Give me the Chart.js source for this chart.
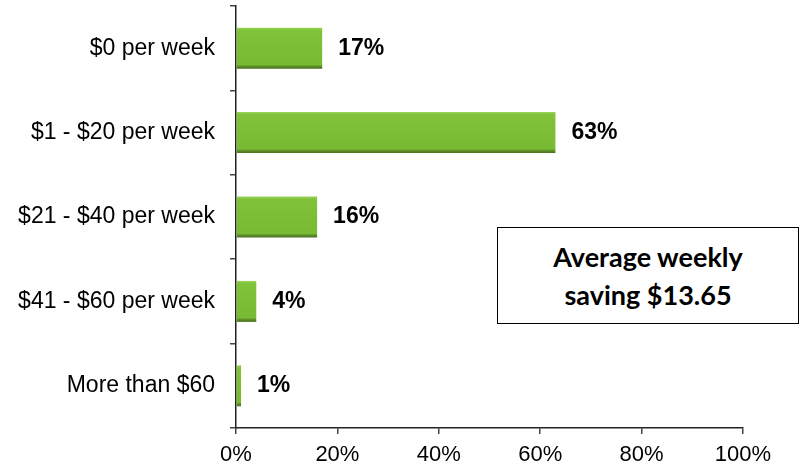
<!DOCTYPE html>
<html>
<head>
<meta charset="utf-8">
<script src="https://cdn.jsdelivr.net/npm/chart.js@4.4.1/dist/chart.umd.min.js"></script>
<style>
  body { margin: 0; background: #fff; }
  #wrap { position: relative; width: 801px; height: 469px; }
  #note {
    position: absolute; left: 497px; top: 227px; width: 300px; height: 95px;
    border: 1.5px solid #000; background: #fff;
    display: flex; align-items: center; justify-content: center; text-align: center;
    font-family: Lato, "Open Sans", sans-serif; font-weight: bold; font-size: 27px;
    line-height: 38px; color: #000;
  }
</style>
</head>
<body>
<div id="wrap">
  <canvas id="savings-chart" width="801" height="469"></canvas>
  <div id="note">Average weekly<br>saving $13.65</div>
</div>
<script>
// Weekly saving bands and share of respondents (%)
const categories = ['$0 per week', '$1 - $20 per week', '$21 - $40 per week', '$41 - $60 per week', 'More than $60'];
const shares = [17, 63, 16, 4, 1];
const xTicks = [0, 20, 40, 60, 80, 100];

const FONT = '"Liberation Sans", Arial, sans-serif';

// Bar fill: flat green with a light top rim and darker bottom shadow
function barFill(ctx) {
    const el = ctx.element;
    const chart = ctx.chart;
    if (!el || !el.height || el.y === undefined) return '#7bbf33';
    const top = el.y - el.height / 2;
    const g = chart.ctx.createLinearGradient(0, top, 0, top + el.height);
    g.addColorStop(0, '#9bd65c');
    g.addColorStop(0.06, '#80c33a');
    g.addColorStop(0.9, '#78bb32');
    g.addColorStop(0.94, '#5f9029');
    g.addColorStop(1, '#4b6f22');
    return g;
}

// Percentage labels to the right of each bar
const valueLabels = {
    id: 'valueLabels',
    afterDatasetsDraw(chart) {
        const ctx = chart.ctx;
        const meta = chart.getDatasetMeta(0);
        ctx.save();
        ctx.font = 'bold 23px ' + FONT;
        ctx.fillStyle = '#000';
        ctx.textAlign = 'left';
        ctx.textBaseline = 'middle';
        meta.data.forEach((bar, i) => {
            ctx.fillText(shares[i] + '%', bar.x + 16, bar.y);
        });
        ctx.restore();
    }
};

const chart = new Chart(
    document.getElementById('savings-chart'),
    {
        type: 'bar',
        data: {
            labels: categories,
            datasets: [{
                data: shares,
                backgroundColor: barFill,
                borderWidth: 0,
                categoryPercentage: 1,
                barPercentage: 0.486
            }]
        },
        options: {
            indexAxis: 'y',
            responsive: false,
            animation: false,
            layout: { padding: { top: 6, right: 58 } },
            plugins: {
                legend: { display: false },
                tooltip: { enabled: false }
            },
            scales: {
                y: {
                    grid: {
                        drawOnChartArea: false,
                        drawTicks: true,
                        tickLength: 6,
                        color: '#444',
                        lineWidth: 1.5,
                        offset: true
                    },
                    border: { color: '#222', width: 1.5 },
                    ticks: {
                        color: '#000',
                        padding: 15,
                        font: { family: FONT, size: 23 }
                    },
                    afterFit(scale) {
                        scale.width = 236;
                        scale.paddingTop = 0;
                        scale.paddingBottom = 0;
                    }
                },
                x: {
                    min: 0,
                    max: 100,
                    afterBuildTicks(scale) {
                        scale.ticks = xTicks.map(v => ({ value: v }));
                    },
                    grid: {
                        drawOnChartArea: false,
                        drawTicks: true,
                        tickLength: 6,
                        color: '#444',
                        lineWidth: 1.5
                    },
                    border: { color: '#222', width: 1.5 },
                    ticks: {
                        color: '#000',
                        padding: 8,
                        maxRotation: 0,
                        callback: v => v + '%',
                        font: { family: FONT, size: 22 }
                    },
                    afterFit(scale) {
                        scale.height = 41;
                        scale.paddingRight = 0;
                    }
                }
            }
        },
        plugins: [valueLabels]
    }
);
// second pass so the gradient fill can read the laid-out bar geometry
chart.update();
</script>
</body>
</html>
